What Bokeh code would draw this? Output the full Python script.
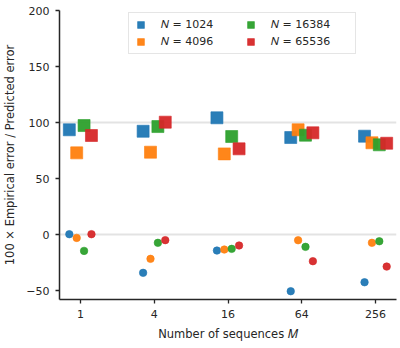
from bokeh.plotting import figure
from bokeh.models import FixedTicker, Span, Legend, LegendItem, BasicTickFormatter
from bokeh.embed import file_html
from bokeh.resources import INLINE

# ---- data ----
M_VALUES = [1, 4, 16, 64, 256]
N_LABELS = ["1024", "4096", "16384", "65536"]

# squares: 100 x empirical / predicted error
SQ_N1024 = [93.5, 92.2, 104.2, 86.6, 87.8]
SQ_N4096 = [72.9, 73.5, 72.0, 93.5, 81.9]
SQ_N16384 = [97.3, 96.4, 87.5, 88.7, 80.1]
SQ_N65536 = [88.4, 100.3, 76.5, 90.8, 81.5]

# circles
CI_N1024 = [0.3, -34.2, -14.3, -50.6, -42.6]
CI_N4096 = [-3.0, -21.7, -13.4, -5.1, -7.4]
CI_N16384 = [-14.6, -7.4, -12.8, -11.0, -6.0]
CI_N65536 = [0.3, -5.0, -9.8, -23.8, -28.6]

Y_TICKS = [-50, 0, 50, 100, 150, 200]

# ---- styles ----
COLORS = ["#1f77b4", "#ff7f0e", "#2ca02c", "#d62728"]
DODGE_LOG2 = [-0.3, -0.1, 0.1, 0.3]
FONT = "DejaVu Sans"
INK = "#262626"

squares = [SQ_N1024, SQ_N4096, SQ_N16384, SQ_N65536]
circles = [CI_N1024, CI_N4096, CI_N16384, CI_N65536]

p = figure(
    width=400, height=348,
    x_axis_type="log",
    x_range=(2 ** -0.566, 2 ** 8.566),
    y_range=(-58, 200),
    output_backend="svg",
    toolbar_location=None,
    min_border_left=57, min_border_right=4,
    min_border_top=10, min_border_bottom=49,
    styles={"position": "absolute", "left": "0px", "top": "0px"},
)

for yv in (0, 100):
    p.add_layout(Span(location=yv, dimension="width", line_color="#e3e3e3",
                      line_width=2, level="underlay"))

sq_renderers = []
for i in range(4):
    xs = [m * 2 ** DODGE_LOG2[i] for m in M_VALUES]
    r = p.scatter(xs, squares[i], marker="square", size=12,
                  fill_color=COLORS[i], line_color=COLORS[i], line_alpha=0.6,
                  fill_alpha=0.95)
    sq_renderers.append(r)
for i in range(4):
    xs = [m * 2 ** DODGE_LOG2[i] for m in M_VALUES]
    p.scatter(xs, circles[i], marker="circle", size=7.5,
              fill_color=COLORS[i], line_color=COLORS[i], line_alpha=0.6,
              fill_alpha=0.95)

p.xgrid.visible = False
p.ygrid.visible = False
p.outline_line_color = None

p.xaxis.ticker = FixedTicker(ticks=M_VALUES, minor_ticks=[])
p.xaxis.formatter = BasicTickFormatter()
p.yaxis.ticker = FixedTicker(ticks=Y_TICKS, minor_ticks=[])
p.yaxis.major_label_overrides = {t: (str(t).replace("-", "\u2212")) for t in Y_TICKS}

p.xaxis.axis_label = "Number of sequences \U0001D440"
p.yaxis.axis_label = "100 \u00d7 Empirical error / Predicted error"

for ax in (p.xaxis[0], p.yaxis[0]):
    ax.axis_line_color = INK
    ax.axis_line_width = 1.5
    ax.major_tick_line_color = INK
    ax.major_tick_line_width = 1.3
    ax.major_tick_out = 4
    ax.major_tick_in = 0
    ax.minor_tick_line_color = None
    ax.major_label_text_font = FONT
    ax.major_label_text_font_size = "11px"
    ax.major_label_text_color = INK
    ax.axis_label_text_font = FONT
    ax.axis_label_text_font_size = "11.5px"
    ax.axis_label_text_font_style = "normal"
    ax.axis_label_text_color = INK
    ax.major_label_standoff = 6
    ax.axis_label_standoff = 6

legend = Legend(
    items=[LegendItem(label="\U0001D441 = " + n, renderers=[sq_renderers[i]])
           for i, n in enumerate(N_LABELS)],
    ncols=2,
    location=(69, 245),
    label_text_font=FONT,
    label_text_font_size="11px",
    label_text_color=INK,
    glyph_width=17, glyph_height=17,
    label_height=17,
    label_width=81,
    label_standoff=12,
    spacing=0,
    padding=3,
    margin=0,
    border_line_color="#cccccc",
    border_line_width=1,
    background_fill_alpha=0.8,
)
p.add_layout(legend, "center")

open("out.html", "w").write(file_html(p, INLINE))
